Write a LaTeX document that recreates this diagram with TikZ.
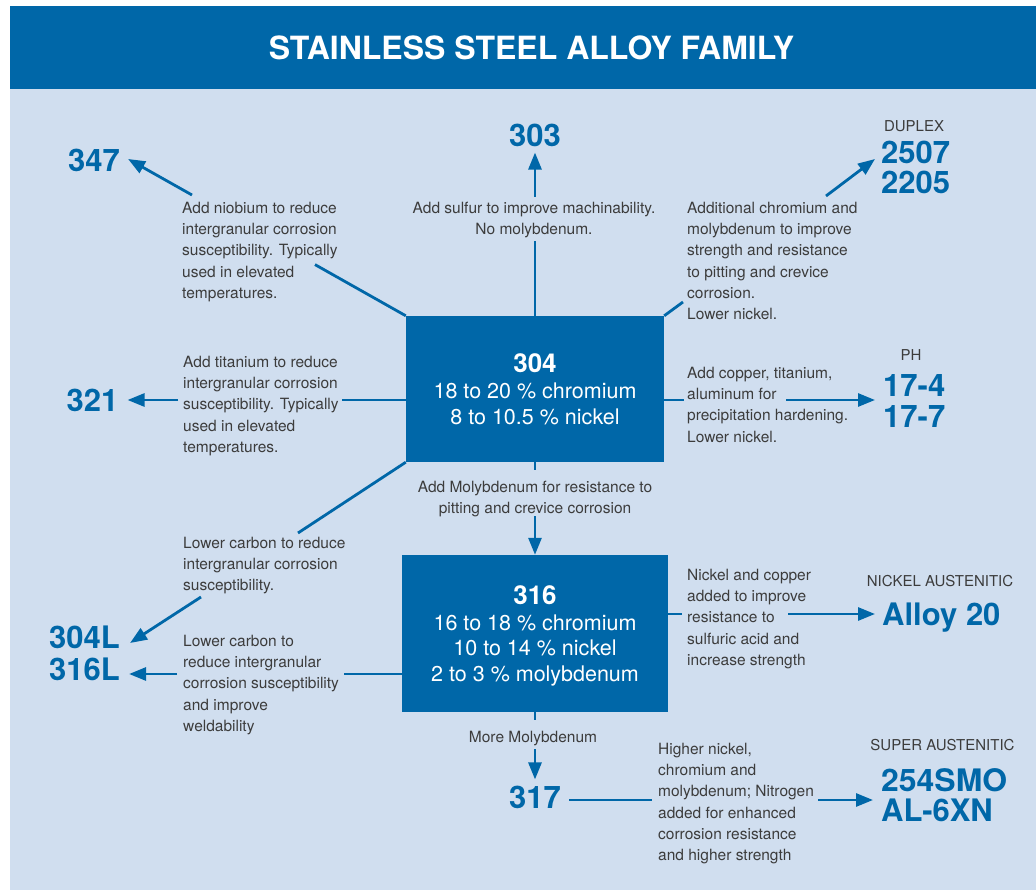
\documentclass[tikz,border=0pt]{standalone}
\usepackage{fontspec}
\setmainfont{TeX Gyre Heros}
\usetikzlibrary{arrows.meta,calc}
\definecolor{sblue}{RGB}{0,103,168}
\definecolor{sbg}{RGB}{208,222,239}
\definecolor{sgray}{RGB}{60,60,60}
\tikzset{
  conn/.style={draw=sblue, line width=2.8pt},
  arr/.style={conn, -{Triangle[length=17pt,width=13pt]}},
  note/.style={text=sgray, font=\fontsize{15.5}{21.2}\selectfont, inner sep=0pt, align=left},
  cnote/.style={note, align=center},
  bignum/.style={text=sblue, font=\fontsize{31}{#1}\selectfont\bfseries, inner sep=0pt, align=left},
  bignum/.default=30,
  grp/.style={text=sgray, font=\fontsize{15}{18}\selectfont, inner sep=0pt},
  alloybox/.style={fill=sblue, text=white, inner sep=0pt, align=center, text depth=0pt, font=\fontsize{21.5}{25.5}\selectfont},
}
\begin{document}
\begin{tikzpicture}[x=1pt,y=-1pt]
\useasboundingbox (0,0) rectangle (1036,890);
\fill[white] (0,0) rectangle (1036,890);
\fill[sbg] (10,89) rectangle (1036,890);
\fill[sblue] (10,6) rectangle (1036,89);
\node[font=\fontsize{32}{32}\selectfont\bfseries, text=white, inner sep=0pt] (title) at (531.5,47.5) {STAINLESS STEEL ALLOY FAMILY};

% main boxes
\node[alloybox, minimum width=258pt, minimum height=146pt] (b304) at (535,389)
  {{\fontsize{26}{26}\selectfont\bfseries 304}\\[1pt]18 to 20 \% chromium\\8 to 10.5 \% nickel};
\node[alloybox, minimum width=266pt, minimum height=157pt] (b316) at (535,633.5)
  {{\fontsize{26}{26}\selectfont\bfseries 316}\\16 to 18 \% chromium\\10 to 14 \% nickel\\2 to 3 \% molybdenum};

% grade numbers
\node[bignum] (n303) at (535,135) {303};
\node[bignum] (n347) at (94,160) {347};
\node[bignum] (n321) at (92.5,400) {321};
\node[bignum] (n317) at (535,797) {317};
\node[bignum, anchor=north west] (n2507) at (881,141) {2507\\2205};
\node[bignum=31, anchor=north west] (n174) at (883,374) {17-4\\17-7};
\node[bignum=31.5, anchor=north west] (n304L) at (49,626) {304L\\316L};
\node[bignum, anchor=base west] (nA20) at (882,625) {Alloy 20};
\node[bignum=30, anchor=north west] (n254) at (881,768) {\scalebox{1.03}[1]{254SMO}\\AL-6XN};

% group labels
\node[grp] (gdup) at (914,126) {DUPLEX};
\node[grp] (gph) at (911,355) {PH};
\node[grp] (gni) at (940,581) {NICKEL AUSTENITIC};
\node[grp] (gsup) at (942.5,745) {SUPER AUSTENITIC};

% notes
\node[note, anchor=north west] (t347) at (182,202) {Add niobium to reduce\\intergranular corrosion\\susceptibility. Typically\\used in elevated\\temperatures.};
\node[cnote, anchor=north] (t303) at (534,202) {Add sulfur to improve machinability.\\No molybdenum.};
\node[note, anchor=north west] (tdup) at (687,202) {Additional chromium and\\molybdenum to improve\\strength and resistance\\to pitting and crevice\\corrosion.\\Lower nickel.};
\node[note, anchor=north west] (t321) at (183,356) {Add titanium to reduce\\intergranular corrosion\\susceptibility. Typically\\used in elevated\\temperatures.};
\node[note, anchor=north west] (tph) at (687,367) {Add copper, titanium,\\aluminum for\\precipitation hardening.\\Lower nickel.};
\node[cnote, anchor=north] (tmo) at (535,481) {Add Molybdenum for resistance to\\pitting and crevice corrosion};
\node[note, anchor=north west] (t304L) at (183,537) {Lower carbon to reduce\\intergranular corrosion\\susceptibility.};
\node[note, anchor=north west] (t316L) at (183,635) {Lower carbon to\\reduce intergranular\\corrosion susceptibility\\and improve\\weldability};
\node[note, anchor=north west] (tA20) at (687,569) {Nickel and copper\\added to improve\\resistance to\\sulfuric acid and\\increase strength};
\node[cnote, anchor=north] (tmm) at (533,731) {More Molybdenum};
\node[note, anchor=north west] (t317) at (658,743) {Higher nickel,\\chromium and\\molybdenum; Nitrogen\\added for enhanced\\corrosion resistance\\and higher strength};

% connector break points
\coordinate (a347) at (315,264.6);
\coordinate (b347) at (192,195);
\coordinate (a303) at (535,241);
\coordinate (b303) at (535,197);
\coordinate (adup) at (683,302);
\coordinate (bdup) at (826,196);
\coordinate (a321) at (342,400);
\coordinate (b321) at (178,400);
\coordinate (aph) at (684,400);
\coordinate (bph) at (786,400);
\coordinate (amo) at (535,470);
\coordinate (bmo) at (535,516);
\coordinate (a304L) at (298,533);
\coordinate (b304L) at (201,597);
\coordinate (a316L) at (344,674);
\coordinate (b316L) at (177,674);
\coordinate (aA20) at (682,614);
\coordinate (bA20) at (788,614);
\coordinate (amm) at (535,720);
\coordinate (bmm) at (535,749);
\coordinate (a317) at (652,800);
\coordinate (b317) at (818,800);

% connectors
\draw[conn] (b304.north west) -- (a347);
\draw[arr] (b347) -- ($(n347.east)+(8,-1)$);
\draw[conn] (b304.north) -- (a303);
\draw[arr] (b303) -- ($(n303.south)+(0,6)$);
\draw[conn] (b304.north east) -- (adup);
\draw[arr] (bdup) -- ($(n2507.north west)+(-6,18)$);
\draw[conn] (b304.west |- a321) -- (a321);
\draw[arr] (b321) -- ($(n321.east)+(9,0)$);
\draw[conn] (b304.east |- aph) -- (aph);
\draw[arr] (bph) -- ($(n174.north west)+(-8,26)$);
\draw[conn] (b304.south) -- (amo);
\draw[arr] (bmo) -- (b316.north);
\draw[conn] (b304.south west) -- (a304L);
\draw[arr] (b304L) -- ($(n304L.north east)+(10,17)$);
\draw[conn] (b316.west |- a316L) -- (a316L);
\draw[arr] (b316L) -- ($(n304L.north east)+(9,48)$);
\draw[conn] (b316.east |- aA20) -- (aA20);
\draw[arr] (bA20) -- ($(nA20.base west)+(-7,-11)$);
\draw[conn] (b316.south) -- (amm);
\draw[arr] (bmm) -- ($(n317.north)+(0,-6)$);
\draw[conn] ($(n317.east)+(8,3)$) -- (a317);
\draw[arr] (b317) -- ($(n254.north west)+(-8,32)$);
\end{tikzpicture}
\end{document}
